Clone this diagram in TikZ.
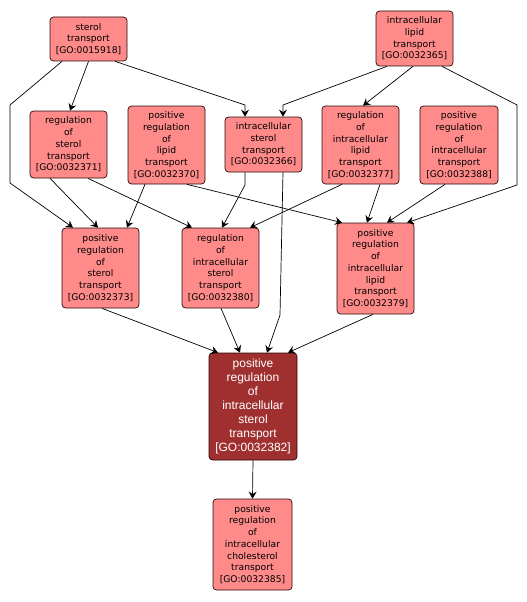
\documentclass[tikz,border=0pt]{standalone}
\usepackage{fontspec}
\setmainfont{DejaVu Sans}
\newfontfamily\hitfont{Liberation Sans}
\usepackage{tikz}
\usepackage{xcolor}
\usetikzlibrary{arrows.meta,positioning,calc}
\definecolor{gofill}  {HTML}{FF8A8A}
\definecolor{hitfill} {HTML}{A03030}
\definecolor{goline}  {HTML}{2A0A0A}
\tikzset{
  gobox/.style  ={draw=goline, fill=gofill, line width=0.7pt, rounded corners=3.5pt,
                  align=center, inner sep=0pt, text width=75pt,
                  font=\fontsize{9.2}{11.7}\selectfont},
  hitbox/.style ={draw=goline, fill=hitfill, line width=0.7pt, rounded corners=3.5pt,
                  align=center, inner sep=0pt, text width=86pt, text=white,
                  font=\hitfont\fontsize{12}{14}\selectfont},
  goarr/.style  ={-{Stealth[length=7pt,width=8pt,inset=2.5pt]}, line width=0.7pt},
}
\begin{document}
\begin{tikzpicture}[x=1pt,y=-1pt]
        \useasboundingbox (0,0) rectangle (527,602);

        % top row
        \node[gobox,minimum width=77pt,minimum height=44pt] (go15918) at (88.5,39)
          {sterol\\transport\\{[GO:0015918]}};
        \node[gobox,minimum width=77pt,minimum height=55pt] (go32365) at (414.5,38.5)
          {intracellular\\lipid\\transport\\{[GO:0032365]}};

        % second row
        \node[gobox,minimum width=77pt,minimum height=67pt] (go32371) at (68.5,144.5)
          {regulation\\of\\sterol\\transport\\{[GO:0032371]}};
        \node[gobox,minimum width=77pt,minimum height=78pt] (go32370) at (166.5,145)
          {positive\\regulation\\of\\lipid\\transport\\{[GO:0032370]}};
        \node[gobox,minimum width=77pt,minimum height=55pt] (go32366) at (263.5,144.5)
          {intracellular\\sterol\\transport\\{[GO:0032366]}};
        \node[gobox,minimum width=77pt,minimum height=78pt] (go32377) at (360.5,145)
          {regulation\\of\\intracellular\\lipid\\transport\\{[GO:0032377]}};
        \node[gobox,minimum width=78pt,minimum height=78pt] (go32388) at (459,145)
          {positive\\regulation\\of\\intracellular\\transport\\{[GO:0032388]}};

        % third row
        \node[gobox,minimum width=77pt,minimum height=80pt] (go32373) at (100.5,268)
          {positive\\regulation\\of\\sterol\\transport\\{[GO:0032373]}};
        \node[gobox,minimum width=77pt,minimum height=80pt] (go32380) at (220.5,268)
          {regulation\\of\\intracellular\\sterol\\transport\\{[GO:0032380]}};
        \node[gobox,minimum width=77pt,minimum height=91pt] (go32379) at (375.5,268.5)
          {positive\\regulation\\of\\intracellular\\lipid\\transport\\{[GO:0032379]}};

        % query term and child
        \node[hitbox,minimum width=88pt,minimum height=107pt] (go32382) at (253,406.5)
          {positive\\regulation\\of\\intracellular\\sterol\\transport\\{[GO:0032382]}};
        \node[gobox,minimum width=79pt,minimum height=91pt] (go32385) at (252.5,544.5)
          {positive\\regulation\\of\\intracellular\\cholesterol\\transport\\{[GO:0032385]}};

        % arrows from sterol transport
        \draw[goarr] (go15918.south) -- ([xshift=1.5pt]go32371.north);
        \draw[goarr] ([xshift=26.5pt]go15918.south) -- (245,105) -- ([xshift=-18.5pt]go32366.north);
        \draw[goarr] ([xshift=-26.5pt]go15918.south) -- (10,105) -- (10,183) -- ([xshift=-27.5pt]go32373.north);

        % arrows from intracellular lipid transport
        \draw[goarr] ([xshift=-27.5pt]go32365.south) -- (283,105) -- ([xshift=19.5pt]go32366.north);
        \draw[goarr] ([xshift=-1.5pt]go32365.south) -- ([xshift=2.5pt]go32377.north);
        \draw[goarr] ([xshift=27.5pt]go32365.south) -- (517,105) -- (517,185) -- ([xshift=31.5pt]go32379.north);

        % second row to third row
        \draw[goarr] ([xshift=-18.5pt]go32371.south) -- ([xshift=-2.5pt]go32373.north);
        \draw[goarr] ([xshift=19.5pt]go32371.south) -- ([xshift=-28.5pt]go32380.north);
        \draw[goarr] ([xshift=-21.5pt]go32370.south) -- ([xshift=26.5pt]go32373.north);
        \draw[goarr] ([xshift=20.5pt]go32370.south) -- ([xshift=-33.5pt]go32379.north);
        \draw[goarr] ([xshift=-18.5pt]go32366.south) -- (245,185) -- ([xshift=1.5pt]go32380.north);
        \draw[goarr] ([xshift=-18.5pt]go32377.south) -- ([xshift=29.5pt]go32380.north);
        \draw[goarr] ([xshift=19.5pt]go32377.south) -- ([xshift=-8.5pt]go32379.north);
        \draw[goarr] ([xshift=-14pt]go32388.south) -- ([xshift=11.5pt]go32379.north);

        % into the query term
        \draw[goarr] ([xshift=19.5pt]go32366.south) -- (280,315) -- ([xshift=14pt]go32382.north);
        \draw[goarr] ([xshift=1.5pt]go32373.south) -- ([xshift=-35pt]go32382.north);
        \draw[goarr] ([xshift=0.5pt]go32380.south) -- ([xshift=-13pt]go32382.north);
        \draw[goarr] ([xshift=-2.5pt]go32379.south) -- ([xshift=35pt]go32382.north);

        % query term to child
        \draw[goarr] (go32382.south) -- (go32385.north);
      \end{tikzpicture}
\end{document}
